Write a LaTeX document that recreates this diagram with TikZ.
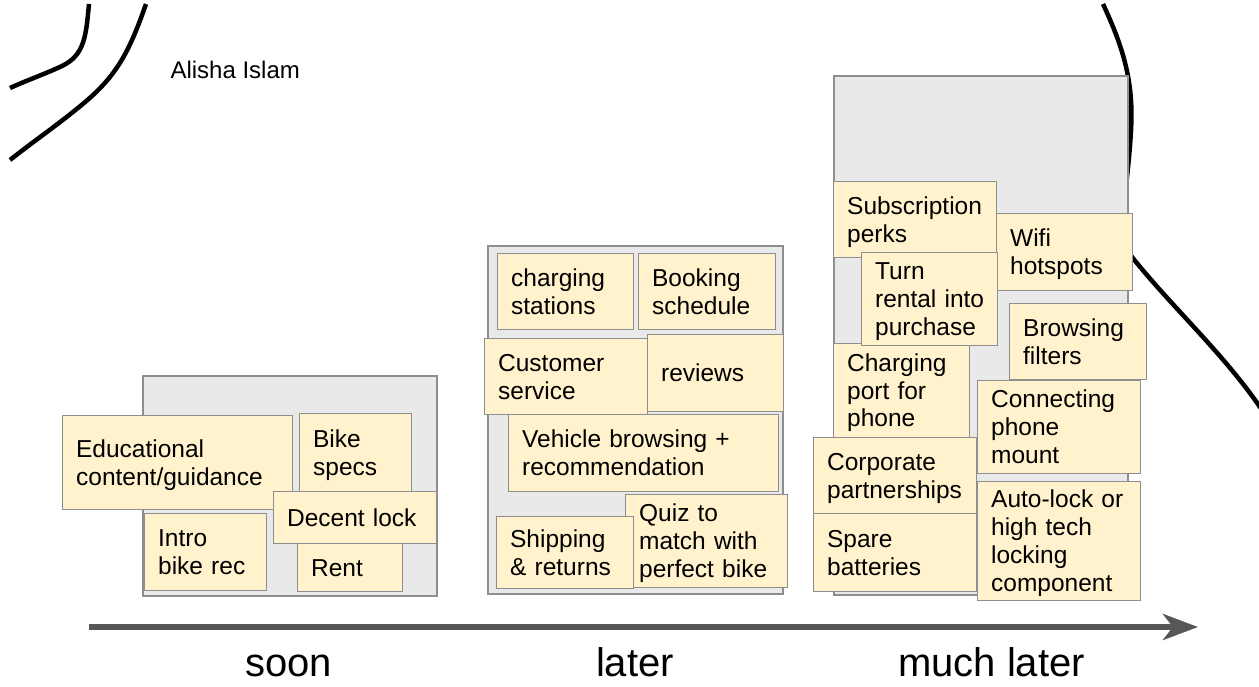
\documentclass[tikz,border=0pt]{standalone}
\usepackage{fontspec}
\setmainfont{Liberation Sans}
\usetikzlibrary{arrows.meta}

\definecolor{notefill}{HTML}{FFF2CC}
\definecolor{noteline}{HTML}{8E8E8E}
\definecolor{groupfill}{HTML}{E9E9E9}
\definecolor{groupline}{HTML}{8E8E8E}
\definecolor{axisgray}{HTML}{575757}

% keeps every line of a sticky note at the same height and depth
\newcommand\notestrut{\rule[-5pt]{0pt}{27pt}}

\tikzset{
  notebox/.style n args={2}{draw=noteline, line width=1.3pt, fill=notefill,
    anchor=north west, inner xsep=13.5pt, inner ysep=0pt,
    minimum width=#1pt, minimum height=#2pt, text width={#1pt-27pt},
    align=left, font=\fontsize{24.5}{27.8}\selectfont,
    execute at begin node=\notestrut, execute at end node=\notestrut},
  groupbox/.style n args={2}{draw=groupline, line width=1.6pt, fill=groupfill,
    anchor=north west, inner sep=0pt, minimum width=#1pt, minimum height=#2pt},
  penline/.style={line width=4.5pt, black},
  phase/.style={anchor=base, font=\fontsize{40}{44}\selectfont},
}

\begin{document}
\begin{tikzpicture}[x=1pt, y=-1pt]
\useasboundingbox (0,0) rectangle (1259,686);
\fill[white] (0,0) rectangle (1259,686);

% hand-drawn pen strokes
\draw[penline] (89,4) .. controls (86,35) and (85,55) .. (62,66)
  .. controls (45,74) and (30,79) .. (10,88);
\draw[penline] (146,4) .. controls (130,50) and (118,72) .. (92,96)
  .. controls (65,120) and (35,140) .. (10,160);
\draw[penline] (1103,4) .. controls (1122,45) and (1134,80) .. (1131,130)
  .. controls (1128,190) and (1115,235) .. (1132,257)
  .. controls (1170,305) and (1225,355) .. (1262,410);

\node[anchor=base west, font=\fontsize{24}{28}\selectfont] (author) at (167,78) {Alisha Islam};

% ---- soon ----
\node[groupbox={294}{220}] (soongrp) at (142,375) {};
\node[notebox={230}{94}] (edu) at (62,415) {Educational\\content/guidance};
\node[notebox={112}{78}] (specs) at (299,413) {Bike\\specs};
\node[notebox={122}{77}] (intro) at (144,513) {Intro\\bike rec};
\node[notebox={105}{48}] (rent) at (297,543) {Rent};
\node[notebox={163}{52}] (lock) at (273,491) {Decent lock};

% ---- later ----
\node[groupbox={295}{348}] (latergrp) at (487,245) {};
\node[notebox={136}{76}] (stations) at (497,253) {charging\\stations};
\node[notebox={137}{76}] (booking) at (638,253) {Booking\\schedule};
\node[notebox={163}{76}] (service) at (484,338) {Customer\\service};
\node[notebox={136}{77}] (reviews) at (647,334) {reviews};
\node[notebox={270}{77}] (browse) at (508,414) {Vehicle browsing +\\recommendation};
\node[notebox={162}{93}] (quiz) at (625,494) {Quiz to\\match with\\perfect bike};
\node[notebox={137}{72}] (shipping) at (496,516) {Shipping\\\& returns};

% ---- much later ----
\node[groupbox={294}{519}] (muchgrp) at (833,75) {};
\node[notebox={163}{76}] (perks) at (833,181) {Subscription\\perks};
\node[notebox={136}{77}] (wifi) at (996,213) {Wifi\\hotspots};
\node[notebox={136}{94}] (port) at (833,343) {Charging\\port for\\phone};
\node[notebox={136}{93}] (purchase) at (861,252) {Turn\\rental into\\purchase};
\node[notebox={137}{76}] (filters) at (1009,303) {Browsing\\filters};
\node[notebox={163}{93}] (mount) at (977,380) {Connecting\\phone\\mount};
\node[notebox={163}{76}] (corporate) at (813,437) {Corporate\\partnerships};
\node[notebox={163}{78}] (batteries) at (813,513) {Spare\\batteries};
\node[notebox={163}{119}] (autolock) at (977,481) {Auto-lock or\\high tech\\locking\\component};

% ---- time axis ----
\coordinate (axisstart) at (89,627);
\coordinate (axisend) at (1198,627);
\draw[axisgray, line width=6pt, -{Stealth[length=35pt, width=26pt, inset=10pt]}] (axisstart) -- (axisend);

\node[phase] (soon) at (288.5,676) {soon};
\node[phase] (later) at (635,676) {later};
\node[phase] (muchlater) at (991.5,676) {much later};
\end{tikzpicture}
\end{document}
